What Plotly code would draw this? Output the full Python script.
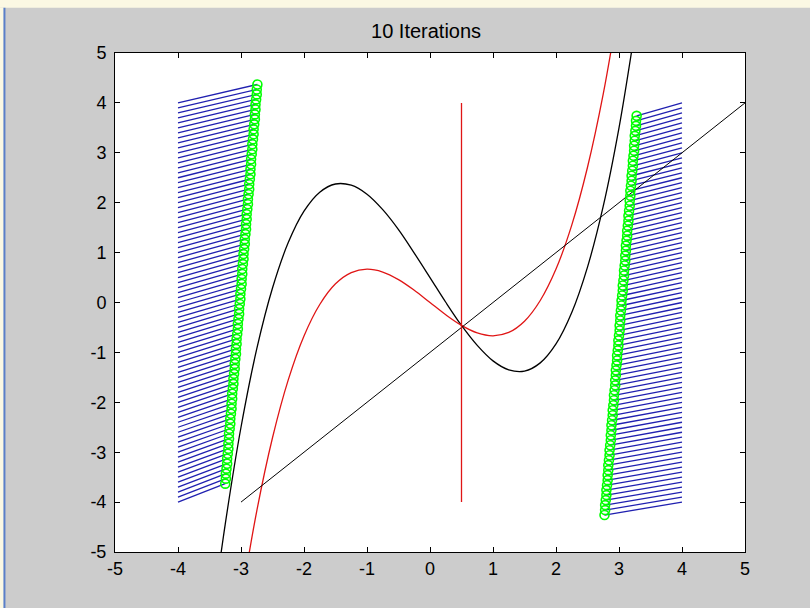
import plotly.graph_objects as go

# ---------------------------------------------------------------- data
# cubic curves, sampled along x
black_x = [-3.4, -3.25, -3.0, -2.75, -2.5, -2.25, -2.0, -1.75, -1.5, -1.25, -1.0,
           -0.75, -0.5, -0.25, 0.0, 0.25, 0.5, 0.75, 1.0, 1.25, 1.5, 1.75, 2.0,
           2.25, 2.5, 2.75, 3.0, 3.25]
black_y = [-5.80, -4.44, -2.50, -0.93, 0.29, 1.20, 1.83, 2.21, 2.375, 2.35, 2.17,
           1.86, 1.46, 0.99, 0.50, 0.005, -0.46, -0.86, -1.17, -1.35, -1.375, -1.21,
           -0.83, -0.20, 0.71, 1.93, 3.50, 5.44]

red_x = [-3.0, -2.75, -2.5, -2.25, -2.0, -1.75, -1.5, -1.25, -1.0, -0.75, -0.5,
         -0.25, 0.0, 0.25, 0.5, 0.75, 1.0, 1.25, 1.5, 1.75, 2.0, 2.25, 2.5, 2.75, 3.0]
red_y = [-6.0, -4.18, -2.71, -1.55, -0.67, -0.04, 0.375, 0.60, 0.667, 0.61, 0.458,
         0.245, 0.0, -0.245, -0.458, -0.61, -0.667, -0.60, -0.375, 0.04, 0.67,
         1.55, 2.71, 4.18, 6.0]

# straight line and the vertical marker line
line_x = [-3.0, 5.0]
line_y = [-4.0, 4.0]
vert_x = [0.5, 0.5]
vert_y = [-4.0, 4.0]

# starting rows (shared by both sides)
start_y = [-4.0, -3.9, -3.8, -3.7, -3.6, -3.5, -3.4, -3.3, -3.2, -3.1,
           -3.0, -2.9, -2.8, -2.7, -2.6, -2.5, -2.4, -2.3, -2.2, -2.1,
           -2.0, -1.9, -1.8, -1.7, -1.6, -1.5, -1.4, -1.3, -1.2, -1.1,
           -1.0, -0.9, -0.8, -0.7, -0.6, -0.5, -0.4, -0.3, -0.2, -0.1,
           0.0, 0.1, 0.2, 0.3, 0.4, 0.5, 0.6, 0.7, 0.8, 0.9,
           1.0, 1.1, 1.2, 1.3, 1.4, 1.5, 1.6, 1.7, 1.8, 1.9,
           2.0, 2.1, 2.2, 2.3, 2.4, 2.5, 2.6, 2.7, 2.8, 2.9,
           3.0, 3.1, 3.2, 3.3, 3.4, 3.5, 3.6, 3.7, 3.8, 3.9, 4.0]
left_start_x = -4.0
right_start_x = 4.0

# positions reached after 10 iterations
left_end_x = [-3.25, -3.24, -3.24, -3.23, -3.22, -3.22, -3.21, -3.20, -3.20, -3.19,
              -3.19, -3.18, -3.17, -3.17, -3.16, -3.15, -3.15, -3.14, -3.14, -3.13,
              -3.12, -3.12, -3.11, -3.10, -3.10, -3.09, -3.08, -3.08, -3.07, -3.07,
              -3.06, -3.05, -3.05, -3.04, -3.03, -3.03, -3.02, -3.01, -3.01, -3.00,
              -2.99, -2.99, -2.98, -2.98, -2.97, -2.96, -2.96, -2.95, -2.94, -2.94,
              -2.93, -2.92, -2.92, -2.91, -2.91, -2.90, -2.89, -2.89, -2.88, -2.87,
              -2.87, -2.86, -2.85, -2.85, -2.84, -2.84, -2.83, -2.82, -2.82, -2.81,
              -2.80, -2.80, -2.79, -2.78, -2.78, -2.77, -2.77, -2.76, -2.75, -2.75, -2.74]
left_end_y = [-3.63, -3.53, -3.43, -3.33, -3.23, -3.13, -3.03, -2.93, -2.83, -2.73,
              -2.63, -2.53, -2.43, -2.33, -2.23, -2.13, -2.03, -1.93, -1.83, -1.73,
              -1.63, -1.53, -1.43, -1.33, -1.23, -1.13, -1.03, -0.93, -0.83, -0.73,
              -0.63, -0.53, -0.43, -0.33, -0.23, -0.13, -0.03, 0.07, 0.17, 0.27,
              0.37, 0.47, 0.57, 0.67, 0.77, 0.87, 0.97, 1.07, 1.17, 1.27,
              1.37, 1.47, 1.57, 1.67, 1.77, 1.87, 1.97, 2.07, 2.17, 2.27,
              2.37, 2.47, 2.57, 2.67, 2.77, 2.87, 2.97, 3.07, 3.17, 3.27,
              3.37, 3.47, 3.57, 3.67, 3.77, 3.87, 3.97, 4.07, 4.17, 4.27, 4.37]
right_end_x = [2.77, 2.78, 2.78, 2.79, 2.80, 2.80, 2.81, 2.82, 2.82, 2.83,
               2.83, 2.84, 2.85, 2.85, 2.86, 2.87, 2.87, 2.88, 2.88, 2.89,
               2.90, 2.90, 2.91, 2.92, 2.92, 2.93, 2.94, 2.94, 2.95, 2.95,
               2.96, 2.97, 2.97, 2.98, 2.99, 2.99, 3.00, 3.01, 3.01, 3.02,
               3.02, 3.03, 3.04, 3.04, 3.05, 3.06, 3.06, 3.07, 3.08, 3.08,
               3.09, 3.10, 3.10, 3.11, 3.11, 3.12, 3.13, 3.13, 3.14, 3.15,
               3.15, 3.16, 3.17, 3.17, 3.18, 3.18, 3.19, 3.20, 3.20, 3.21,
               3.22, 3.22, 3.23, 3.24, 3.24, 3.25, 3.25, 3.26, 3.27, 3.27, 3.28]
right_end_y = [-4.26, -4.16, -4.06, -3.96, -3.86, -3.76, -3.66, -3.56, -3.46, -3.36,
               -3.26, -3.16, -3.06, -2.96, -2.86, -2.76, -2.66, -2.56, -2.46, -2.36,
               -2.26, -2.16, -2.06, -1.96, -1.86, -1.76, -1.66, -1.56, -1.46, -1.36,
               -1.26, -1.16, -1.06, -0.96, -0.86, -0.76, -0.66, -0.56, -0.46, -0.36,
               -0.26, -0.16, -0.06, 0.04, 0.14, 0.24, 0.34, 0.44, 0.54, 0.64,
               0.74, 0.84, 0.94, 1.04, 1.14, 1.24, 1.34, 1.44, 1.54, 1.64,
               1.74, 1.84, 1.94, 2.04, 2.14, 2.24, 2.34, 2.44, 2.54, 2.64,
               2.74, 2.84, 2.94, 3.04, 3.14, 3.24, 3.34, 3.44, 3.54, 3.64, 3.74]

tick_vals = [-5, -4, -3, -2, -1, 0, 1, 2, 3, 4, 5]
tick_text = ["-5", "-4", "-3", "-2", "-1", "0", "1", "2", "3", "4", "5"]
title_text = "10 Iterations"

# ---------------------------------------------------------------- styling
BLUE = "#2020b0"
GREEN = "#00ff00"
RED = "#e01515"
FONT = "Liberation Sans Narrow, Liberation Sans, Arial, sans-serif"


def segments(x0, ys0, xs1, ys1):
    """Join start/end pairs into one polyline separated by gaps."""
    xs, ys = [], []
    for y0, x1, y1 in zip(ys0, xs1, ys1):
        xs += [x0, x1, None]
        ys += [y0, y1, None]
    return xs, ys


fig = go.Figure()

for sx, ex, ey in [(left_start_x, left_end_x, left_end_y),
                   (right_start_x, right_end_x, right_end_y)]:
    px, py = segments(sx, start_y, ex, ey)
    fig.add_trace(go.Scatter(x=px, y=py, mode="lines",
                             line=dict(color=BLUE, width=1.3)))

fig.add_trace(go.Scatter(x=black_x, y=black_y, mode="lines",
                         line=dict(color="black", width=1.3, shape="spline")))
fig.add_trace(go.Scatter(x=red_x, y=red_y, mode="lines",
                         line=dict(color=RED, width=1.3, shape="spline")))
fig.add_trace(go.Scatter(x=line_x, y=line_y, mode="lines",
                         line=dict(color="black", width=1)))
fig.add_trace(go.Scatter(x=vert_x, y=vert_y, mode="lines",
                         line=dict(color=RED, width=1.3)))

for ex, ey in [(left_end_x, left_end_y), (right_end_x, right_end_y)]:
    fig.add_trace(go.Scatter(x=ex, y=ey, mode="markers", cliponaxis=False,
                             marker=dict(symbol="circle-open", size=9,
                                         color=GREEN, line=dict(color=GREEN, width=1.6))))

axis_common = dict(
    range=[-5, 5], tickvals=tick_vals, ticktext=tick_text, ticks="inside", ticklen=5,
    tickcolor="black", tickwidth=1, showline=True, linecolor="black",
    linewidth=1, mirror="ticks", showgrid=False, zeroline=False,
    tickfont=dict(family=FONT, size=18, color="black"),
)

fig.update_layout(
    width=810, height=608,
    margin=dict(l=115, r=65, t=53, b=56),
    paper_bgcolor="#cccccc", plot_bgcolor="white",
    showlegend=False,
    title=dict(text=title_text, x=0.526, xanchor="center", y=0.949, yanchor="middle",
               font=dict(family=FONT, size=20, color="black")),
    xaxis=dict(**axis_common),
    yaxis=dict(**axis_common, ticklabelstandoff=4),
)

# pale strip along the top edge and the thin blue frame line on the left
fig.add_shape(type="rect", xref="paper", yref="paper",
              x0=-0.2, x1=1.2, y0=1.0906, y1=1.11, line=dict(width=0),
              fillcolor="#fbf8e3", layer="below")
fig.add_shape(type="rect", xref="paper", yref="paper",
              x0=-0.19, x1=-0.1755, y0=-0.12, y1=1.0906, line=dict(width=0),
              fillcolor="#fbf8e3", layer="below")
fig.add_shape(type="line", xref="paper", yref="paper",
              x0=-0.1755, x1=-0.1755, y0=-0.12, y1=1.0906,
              line=dict(color="#5a7fc8", width=2), layer="below")

fig.write_html("out.html")
